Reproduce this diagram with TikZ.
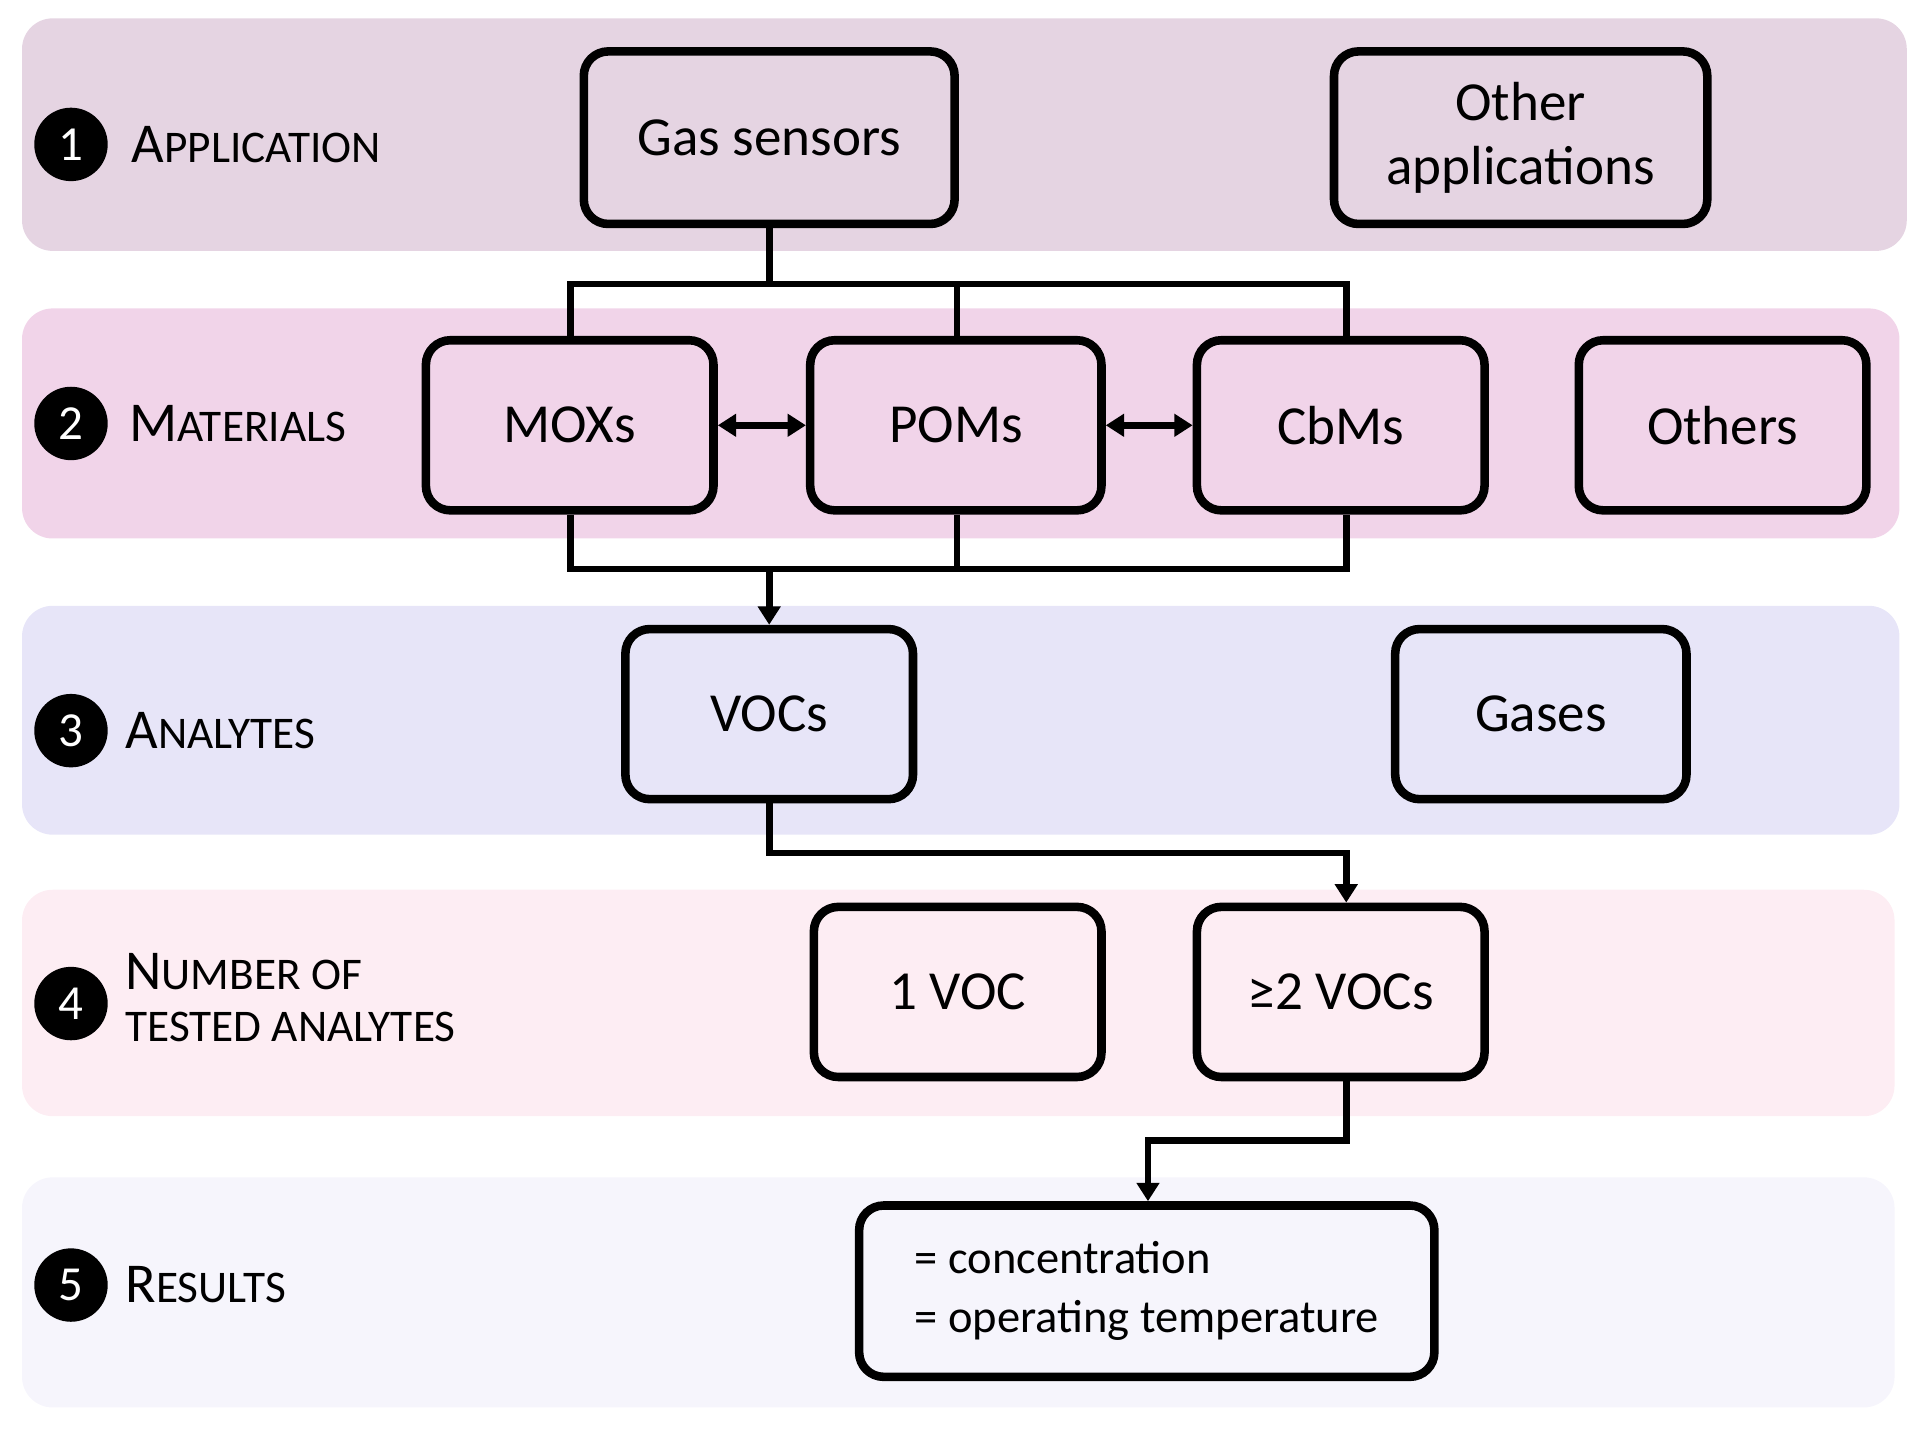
\documentclass[tikz,border=0pt]{standalone}
\usepackage{fontspec}
\setmainfont{Carlito}
\usetikzlibrary{arrows.meta}
\definecolor{b1}{RGB}{229,212,226}
\definecolor{b2}{RGB}{241,212,233}
\definecolor{b3}{RGB}{231,229,248}
\definecolor{b4}{RGB}{253,237,243}
\definecolor{b5}{RGB}{246,245,252}
\begin{document}
\begin{tikzpicture}[x=1pt,y=-1pt,
  band/.style={rounded corners=25pt},
  box/.style={draw=black,line width=7pt,rounded corners=20pt,font=\fontsize{45}{52}\selectfont},
  num/.style={circle,fill=black,text=white,minimum size=60pt,inner sep=0pt,font=\fontsize{40}{44}\selectfont},
  lab/.style={anchor=west,font=\fontsize{46}{42}\selectfont,align=left},
  con/.style={line width=5.5pt},
  arr/.style={line width=5.5pt,-{Triangle[length=15pt,width=18pt]}},
  darr/.style={line width=5.5pt,{Triangle[length=15pt,width=18pt]}-{Triangle[length=15pt,width=18pt]}}]
\useasboundingbox (0,0) rectangle (1568,1169);
\fill[b1,band] (18,15) rectangle (1558,205);
\fill[b2,band] (18,252) rectangle (1552,440);
\fill[b3,band] (18,495) rectangle (1552,682);
\fill[b4,band] (18,727) rectangle (1548,912);
\fill[b5,band] (18,962) rectangle (1548,1150);
\newcommand{\smc}[1]{{\fontsize{37}{40}\selectfont #1}}
\node[num] (n1) at (58,118) {1};
\node[num] (n2) at (58,346) {2};
\node[num] (n3) at (58,597) {3};
\node[num] (n4) at (58,820) {4};
\node[num] (n5) at (58,1050) {5};
\node[lab] (l1) at (104,118) {A\smc{PPLICATION}};
\node[lab] (l2) at (102,346) {M\smc{ATERIALS}};
\node[lab] (l3) at (99,597) {A\smc{NALYTES}};
\node[lab] (l4) at (99,815) {N\smc{UMBER OF}\\\smc{TESTED ANALYTES}};
\node[lab] (l5) at (99,1050) {R\smc{ESULTS}};
\node[box,fill=b1,minimum width=303pt,minimum height=141pt] (gas) at (628.5,112.5) {Gas sensors};
\node[box,fill=b1,minimum width=305pt,minimum height=141pt,align=center] (oth) at (1242.5,112.5) {Other\\applications};
\node[box,fill=b2,minimum width=235pt,minimum height=139pt] (mox) at (465.5,347.5) {MOXs};
\node[box,fill=b2,minimum width=238pt,minimum height=139pt] (pom) at (781,347.5) {POMs};
\node[box,fill=b2,minimum width=235pt,minimum height=139pt] (cbm) at (1095.5,347.5) {CbMs};
\node[box,fill=b2,minimum width=235pt,minimum height=139pt] (oths) at (1407.5,347.5) {Others};
\node[box,fill=b3,minimum width=235pt,minimum height=139pt] (voc) at (628.5,583.5) {VOCs};
\node[box,fill=b3,minimum width=238pt,minimum height=139pt] (gases) at (1259,583.5) {Gases};
\node[box,fill=b4,minimum width=235pt,minimum height=139pt] (one) at (782.5,810.5) {1 VOC};
\node[box,fill=b4,minimum width=235pt,minimum height=139pt] (two) at (1095.5,810.5) {≥2 VOCs};
\node[box,fill=b5,minimum width=470pt,minimum height=140pt,align=left,font=\fontsize{38}{48}\selectfont] (res) at (937,1055) {= concentration\\= operating temperature};
\coordinate (t1) at (628.5,232);
\draw[con] (gas.south) -- (t1);
\draw[con] (mox.north -| 466,0) |- (t1) -| (cbm.north -| 1100,0);
\draw[con] (pom.north -| 782,0) -- (782,232);
\draw[darr] (mox.east) -- (pom.west);
\draw[darr] (pom.east) -- (cbm.west);
\coordinate (t2) at (628.5,465);
\draw[con] (mox.south -| 466,0) |- (t2) -| (cbm.south -| 1100,0);
\draw[con] (pom.south -| 782,0) -- (782,465);
\draw[arr] (t2) -- (voc.north);
\draw[arr] (voc.south) |- (1100,697) -- (two.north -| 1100,0);
\draw[arr] (two.south -| 1100,0) |- (938,932) -- (res.north -| 938,0);
\end{tikzpicture}
\end{document}
